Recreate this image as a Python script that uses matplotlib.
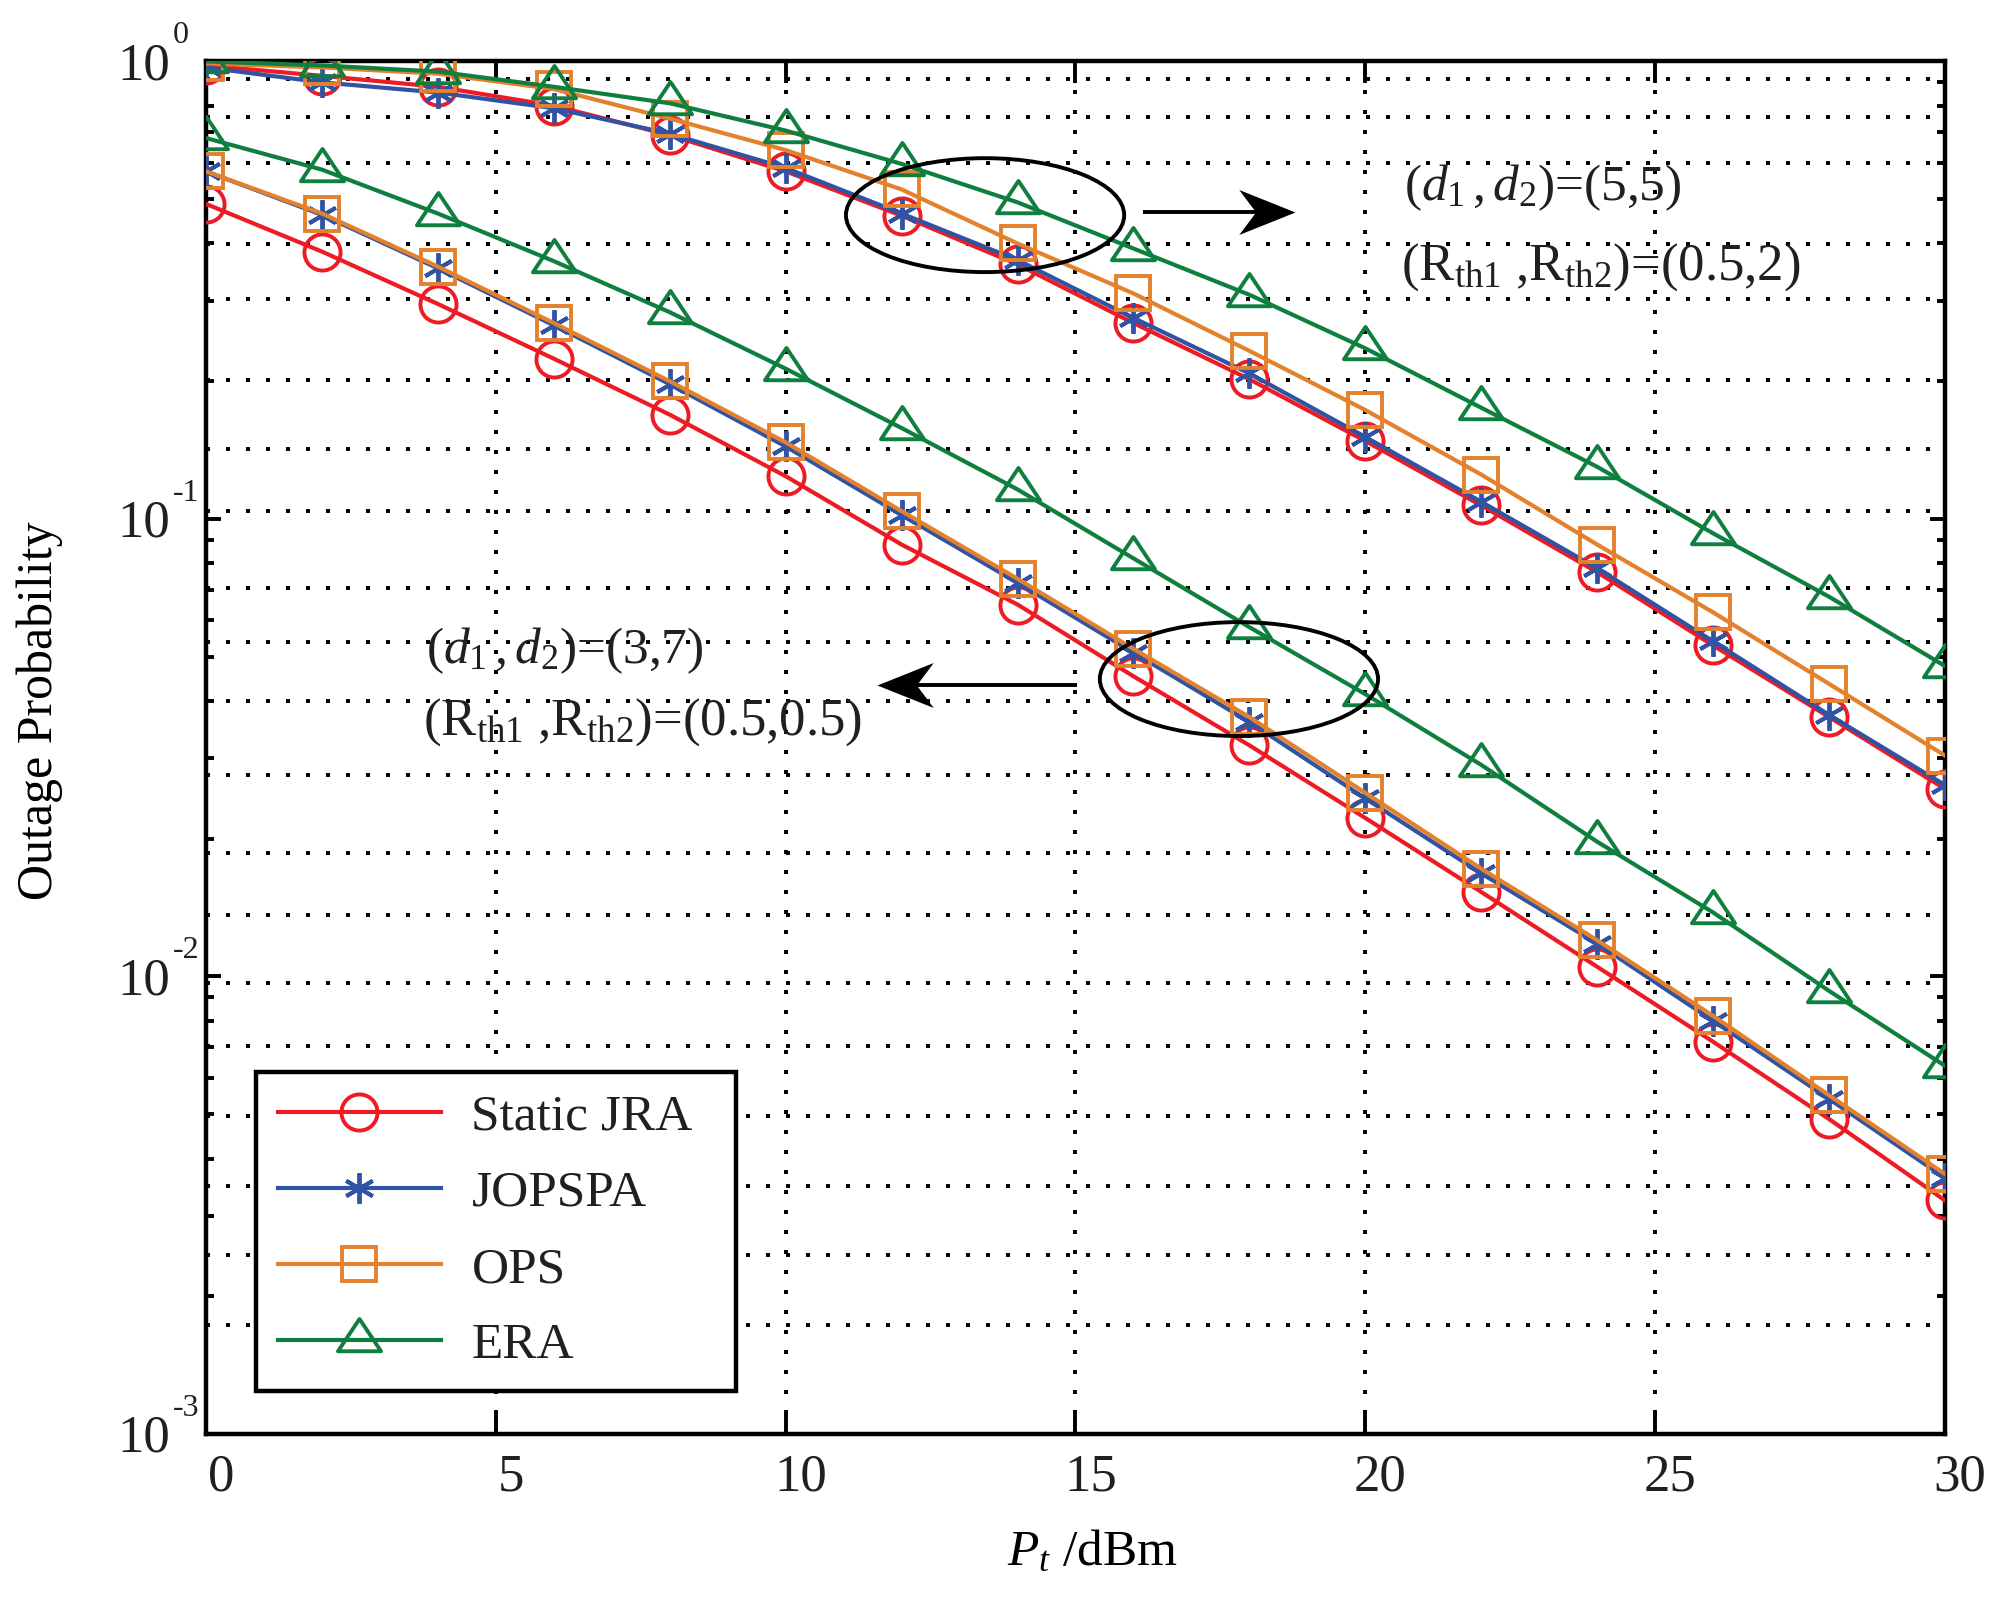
import matplotlib
matplotlib.use("Agg")
import matplotlib.pyplot as plt
from matplotlib.patches import Ellipse
from matplotlib.path import Path
from matplotlib.ticker import LogLocator, NullFormatter
from matplotlib.transforms import ScaledTranslation, blended_transform_factory

# ── Data ───────────────────────────────────────────────────────────
P_T = [0, 2, 4, 6, 8, 10, 12, 14, 16, 18, 20, 22, 24, 26, 28, 30]

# (d1,d2)=(5,5), (Rth1,Rth2)=(0.5,2)
JRA_55 = [0.98, 0.93, 0.88, 0.80, 0.69, 0.575, 0.46, 0.36, 0.268, 0.202,
          0.148, 0.107, 0.0765, 0.0529, 0.0369, 0.0257]
JOPSPA_55 = [0.97, 0.90, 0.855, 0.79, 0.695, 0.585, 0.465, 0.368, 0.275, 0.208,
             0.151, 0.109, 0.078, 0.054, 0.0373, 0.0262]
OPS_55 = [0.99, 0.97, 0.94, 0.87, 0.75, 0.64, 0.525, 0.40, 0.311, 0.233,
          0.173, 0.125, 0.0879, 0.0625, 0.0436, 0.0304]
ERA_55 = [1.0, 0.98, 0.95, 0.88, 0.81, 0.706, 0.597, 0.492, 0.39, 0.309,
          0.236, 0.175, 0.130, 0.093, 0.0676, 0.0477]

# (d1,d2)=(3,7), (Rth1,Rth2)=(0.5,0.5)
JRA_37 = [0.488, 0.384, 0.295, 0.224, 0.169, 0.124, 0.0879, 0.065, 0.0453, 0.032,
          0.0222, 0.0153, 0.0105, 0.0072, 0.00488, 0.00324]
JOPSPA_37 = [0.575, 0.462, 0.353, 0.265, 0.197, 0.144, 0.102, 0.0725, 0.051, 0.036,
             0.0245, 0.0168, 0.0118, 0.0080, 0.0054, 0.00363]
OPS_37 = [0.575, 0.465, 0.356, 0.268, 0.2, 0.147, 0.104, 0.074, 0.052, 0.0369,
          0.0252, 0.0172, 0.012, 0.0082, 0.0055, 0.0037]
ERA_37 = [0.68, 0.58, 0.465, 0.366, 0.283, 0.213, 0.158, 0.116, 0.082, 0.058,
          0.0414, 0.029, 0.0197, 0.0138, 0.0093, 0.00638]

SERIES = ["Static JRA", "JOPSPA", "OPS", "ERA"]
GROUP_55 = [JRA_55, JOPSPA_55, OPS_55, ERA_55]
GROUP_37 = [JRA_37, JOPSPA_37, OPS_37, ERA_37]

X_TICKS = [0, 5, 10, 15, 20, 25, 30]
Y_TICKS = [1e-3, 1e-2, 1e-1, 1e0]
Y_TICK_BASE = "10"
Y_TICK_EXP = ["-3", "-2", "-1", "0"]

# horizontal dotted grid as it appears in the original (not on the minor ticks)
GRID_Y = [0.914, 0.757, 0.600, 0.398, 0.303, 0.201, 0.142, 0.104, 0.0706, 0.0539,
          0.0401, 0.0276, 0.0186, 0.01365, 0.00966, 0.00704, 0.00496, 0.00349,
          0.00246, 0.00173]

# ── Style ──────────────────────────────────────────────────────────
TRI = Path([(0, 1), (-1, -0.5), (1, -0.5), (0, 1)], closed=True)
STYLE = {
    "Static JRA": dict(color="#ED1C24", marker="o", ms=26),
    "JOPSPA": dict(color="#3153A4", marker=(6, 2, 0), ms=22),
    "OPS": dict(color="#E3812D", marker="s", ms=25),
    "ERA": dict(color="#0F7F3F", marker=TRI, ms=31),
}
INK = "#231f20"

# barbed arrow head, tip at the origin
HEAD_R = Path([(0, 0), (-1, 0.4), (-0.7, 0), (-1, -0.4), (0, 0)], closed=True)
HEAD_L = Path([(0, 0), (1, 0.4), (0.7, 0), (1, -0.4), (0, 0)], closed=True)

plt.rcParams["font.family"] = ["Liberation Serif", "DejaVu Serif"]
plt.rcParams["mathtext.fontset"] = "custom"
plt.rcParams["mathtext.rm"] = "Liberation Serif"
plt.rcParams["mathtext.it"] = "Liberation Serif:italic"
plt.rcParams["mathtext.bf"] = "Liberation Serif:bold"
plt.rcParams["lines.scale_dashes"] = False
plt.rcParams["text.color"] = INK

fig = plt.figure(figsize=(20.08, 15.99), dpi=100)
ax = fig.add_axes([0.1026, 0.1032, 0.866, 0.8584])

for name, y55, y37 in zip(SERIES, GROUP_55, GROUP_37):
    st = STYLE[name]
    for ys, lab in ((y55, name), (y37, None)):
        ax.plot(P_T, ys, color=st["color"], lw=3.0, marker=st["marker"], ms=st["ms"],
                mfc="none", mec=st["color"], mew=2.8, label=lab, zorder=3)

ax.set_yscale("log")
ax.set_xlim(0, 30)
ax.set_ylim(1e-3, 1)

# grid
dots = (0, (2.9, 11.5))
for gy in GRID_Y:
    ax.axhline(gy, color="black", lw=2.8, ls=dots, zorder=1)
for gx in X_TICKS[1:-1]:
    ax.axvline(gx, color="black", lw=2.8, ls=dots, zorder=1)

# ticks
ax.set_xticks(X_TICKS)
ax.set_xticklabels([str(v) for v in X_TICKS])
ax.set_yticks(Y_TICKS)
ax.yaxis.set_minor_locator(LogLocator(base=10, subs=range(2, 10)))
ax.yaxis.set_minor_formatter(NullFormatter())
ax.tick_params(axis="x", which="major", direction="in", top=True, length=16, width=2.8,
               labelsize=38, pad=14, colors="black", labelcolor=INK)
ax.tick_params(axis="y", which="major", direction="in", right=True, length=11, width=2.8,
               labelleft=False, colors="black")
ax.tick_params(axis="y", which="minor", direction="in", right=True, length=5.5, width=2.8,
               colors="black")
for sp in ax.spines.values():
    sp.set_linewidth(3.2)

xshift = ScaledTranslation(0.15, 0, fig.dpi_scale_trans)
for lbl in ax.get_xticklabels():
    lbl.set_transform(lbl.get_transform() + xshift)

# MATLAB-style "10" with a small raised exponent
ytrans = blended_transform_factory(ax.transAxes, ax.transData)
base_off = ScaledTranslation(-0.36, -0.18, fig.dpi_scale_trans)
exp_off = ScaledTranslation(-0.33, 0.18, fig.dpi_scale_trans)
for yv, ex in zip(Y_TICKS, Y_TICK_EXP):
    ax.text(0, yv, Y_TICK_BASE, transform=ytrans + base_off, fontsize=38,
            ha="right", va="baseline", clip_on=False)
    ax.text(0, yv, ex, transform=ytrans + exp_off, fontsize=23,
            ha="left", va="baseline", clip_on=False)

ax.set_xlabel(r"$P_t$ /dBm", fontsize=37)
ax.xaxis.set_label_coords(0.51, -0.070)
ax.set_ylabel("Outage Probability", fontsize=36)
ax.yaxis.set_label_coords(-0.082, 0.527)

# annotations
for cx, cy in ((0.448, 0.888), (0.594, 0.550)):
    ax.add_patch(Ellipse((cx, cy), 0.16, 0.083, transform=ax.transAxes, fill=False,
                         ec="black", lw=2.8, zorder=4))

ARROWS = [((0.539, 0.890), (0.626, 0.890), HEAD_R),
          ((0.501, 0.546), (0.386, 0.546), HEAD_L)]
for (x0, y0), (x1, y1), head in ARROWS:
    # shaft stops at the notch of the head
    back = 0.7 * 28 / 1739 * (1 if x1 > x0 else -1)
    ax.plot([x0, x1 - back], [y0, y1], transform=ax.transAxes, color="black",
            lw=2.8, solid_capstyle="butt", zorder=4, clip_on=False)
    ax.plot([x1], [y1], transform=ax.transAxes, marker=head, ms=81, mfc="black",
            mec="black", mew=0, ls="none", zorder=4, clip_on=False)

ax.text(0.689, 0.899, r"$(d_1\,,d_2)$=(5,5)", transform=ax.transAxes, fontsize=37,
        va="baseline", ha="left")
ax.text(0.687, 0.841, r"(R$_{\mathrm{th1}}$ ,R$_{\mathrm{th2}}$)=(0.5,2)",
        transform=ax.transAxes, fontsize=38, va="baseline", ha="left")
ax.text(0.1264, 0.5617, r"$(d_1\,,d_2)$=(3,7)", transform=ax.transAxes, fontsize=37,
        va="baseline", ha="left")
ax.text(0.1245, 0.5095, r"(R$_{\mathrm{th1}}$ ,R$_{\mathrm{th2}}$)=(0.5,0.5)",
        transform=ax.transAxes, fontsize=38, va="baseline", ha="left")

leg = ax.legend(loc="lower left", bbox_to_anchor=(0.0288, 0.0313, 0.276, 0.231),
                mode="expand", borderaxespad=0, fontsize=37, handlelength=3.17,
                handletextpad=0.6, labelspacing=0.57, borderpad=0.42, fancybox=False,
                framealpha=1, edgecolor="black")
leg.get_frame().set_linewidth(3.2)
leg.set_zorder(5)

fig.savefig("out.png", dpi=100)
